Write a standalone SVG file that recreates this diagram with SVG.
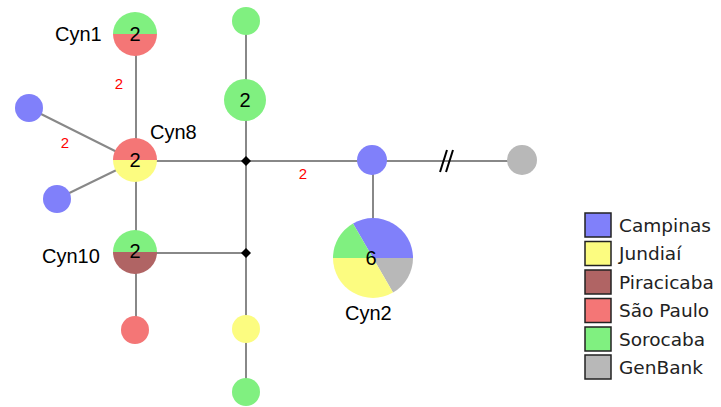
<svg xmlns="http://www.w3.org/2000/svg" width="721" height="407" viewBox="0 0 721 407">
  <style>
    .edge { stroke: #888888; stroke-width: 2; fill: none; }
    .junction { fill: #000000; }
    .campinas { fill: #8080fa; }
    .jundiai { fill: #fcfc80; }
    .piracicaba { fill: #b06464; }
    .saopaulo { fill: #f47676; }
    .sorocaba { fill: #80f080; }
    .genbank { fill: #b8b8b8; }
    .count { font-family: "Liberation Sans", Arial, sans-serif; font-size: 20px; fill: #000; text-anchor: middle; }
    .name { font-family: "Liberation Sans", Arial, sans-serif; font-size: 20px; fill: #000; }
    .steps { font-family: "Liberation Sans", Arial, sans-serif; font-size: 15px; fill: #ff0000; text-anchor: middle; }
    .legend-box { stroke: #222; stroke-width: 1.5; }
    .legend-text { font-family: "DejaVu Sans", Verdana, sans-serif; font-size: 18.5px; fill: #222; }
  </style>

  <rect width="721" height="407" fill="#ffffff"/>

  <!-- connectors -->
  <g id="connectors">
    <line class="edge" x1="136" y1="34" x2="136" y2="330"/>
    <line class="edge" x1="29" y1="108" x2="135" y2="161"/>
    <line class="edge" x1="57" y1="199" x2="135" y2="161"/>
    <line class="edge" x1="135" y1="161" x2="373" y2="161"/>
    <line class="edge" x1="135" y1="253" x2="246" y2="253"/>
    <line class="edge" x1="246" y1="21" x2="246" y2="392"/>
    <line class="edge" x1="373" y1="161" x2="373" y2="258"/>
    <line class="edge" x1="373" y1="161" x2="522" y2="161"/>
    <!-- break mark on the long branch -->
    <line x1="440" y1="172" x2="447" y2="150" stroke="#000" stroke-width="2"/>
    <line x1="446" y1="172" x2="453" y2="150" stroke="#000" stroke-width="2"/>
    <!-- mutation step counts -->
    <text class="steps" x="119" y="89">2</text>
    <text class="steps" x="65" y="148">2</text>
    <text class="steps" x="303" y="179">2</text>
  </g>

  <!-- median vectors -->
  <g id="mv1"><polygon class="junction" points="246,156 251,161 246,166 241,161"/></g>
  <g id="mv2"><polygon class="junction" points="246,248 251,253 246,258 241,253"/></g>

  <!-- Cyn1: Sorocaba / São Paulo -->
  <g id="cyn1">
    <path class="sorocaba" d="M113,34 A22,22 0 0 1 157,34 Z"/>
    <path class="saopaulo" d="M113,34 A22,22 0 0 0 157,34 Z"/>
    <text class="count" x="135" y="41">2</text>
    <text class="name" x="55" y="41">Cyn1</text>
  </g>

  <!-- Cyn8: São Paulo / Jundiaí -->
  <g id="cyn8">
    <path class="saopaulo" d="M113,160 A22,22 0 0 1 157,160 Z"/>
    <path class="jundiai" d="M113,160 A22,22 0 0 0 157,160 Z"/>
    <text class="count" x="135" y="167">2</text>
    <text class="name" x="150" y="139">Cyn8</text>
  </g>

  <!-- Cyn10: Sorocaba / Piracicaba -->
  <g id="cyn10">
    <path class="sorocaba" d="M113,252 A22,22 0 0 1 157,252 Z"/>
    <path class="piracicaba" d="M113,252 A22,22 0 0 0 157,252 Z"/>
    <text class="count" x="135" y="258">2</text>
    <text class="name" x="42" y="263">Cyn10</text>
  </g>

  <!-- single haplotypes -->
  <g id="h-campinas-a"><circle class="campinas" cx="29" cy="108" r="14"/></g>
  <g id="h-campinas-b"><circle class="campinas" cx="57" cy="199" r="14"/></g>
  <g id="h-saopaulo"><circle class="saopaulo" cx="135" cy="330" r="14"/></g>
  <g id="h-sorocaba-top"><circle class="sorocaba" cx="246" cy="21" r="14"/></g>
  <g id="h-sorocaba-2">
    <circle class="sorocaba" cx="245" cy="100" r="21"/>
    <text class="count" x="245" y="107">2</text>
  </g>
  <g id="h-jundiai"><circle class="jundiai" cx="246" cy="329" r="14"/></g>
  <g id="h-sorocaba-bottom"><circle class="sorocaba" cx="246" cy="392" r="14"/></g>
  <g id="h-campinas-c"><circle class="campinas" cx="372" cy="160" r="15"/></g>
  <g id="h-genbank"><circle class="genbank" cx="522" cy="160" r="15"/></g>

  <!-- Cyn2: 6 sequences, pie in 60 degree steps -->
  <g id="cyn2">
    <path class="campinas" d="M373,258 L353,223.4 A40,40 0 0 1 413,258 Z"/>
    <path class="genbank" d="M373,258 L413,258 A40,40 0 0 1 393,292.6 Z"/>
    <path class="jundiai" d="M373,258 L393,292.6 A40,40 0 0 1 333,258 Z"/>
    <path class="sorocaba" d="M373,258 L333,258 A40,40 0 0 1 353,223.4 Z"/>
    <text class="count" x="371" y="265">6</text>
    <text class="name" x="345" y="320">Cyn2</text>
  </g>

  <!-- legend -->
  <g id="legend">
    <rect class="legend-box campinas" x="585" y="213" width="26" height="24"/>
    <text class="legend-text" x="619" y="232">Campinas</text>
    <rect class="legend-box jundiai" x="585" y="241.5" width="26" height="24"/>
    <text class="legend-text" x="619" y="260">Jundiaí</text>
    <rect class="legend-box piracicaba" x="585" y="270" width="26" height="24"/>
    <text class="legend-text" x="619" y="288.5">Piracicaba</text>
    <rect class="legend-box saopaulo" x="585" y="298.5" width="26" height="24"/>
    <text class="legend-text" x="619" y="317">São Paulo</text>
    <rect class="legend-box sorocaba" x="585" y="327" width="26" height="24"/>
    <text class="legend-text" x="619" y="345.5">Sorocaba</text>
    <rect class="legend-box genbank" x="585" y="355" width="26" height="24"/>
    <text class="legend-text" x="619" y="374">GenBank</text>
  </g>
</svg>
